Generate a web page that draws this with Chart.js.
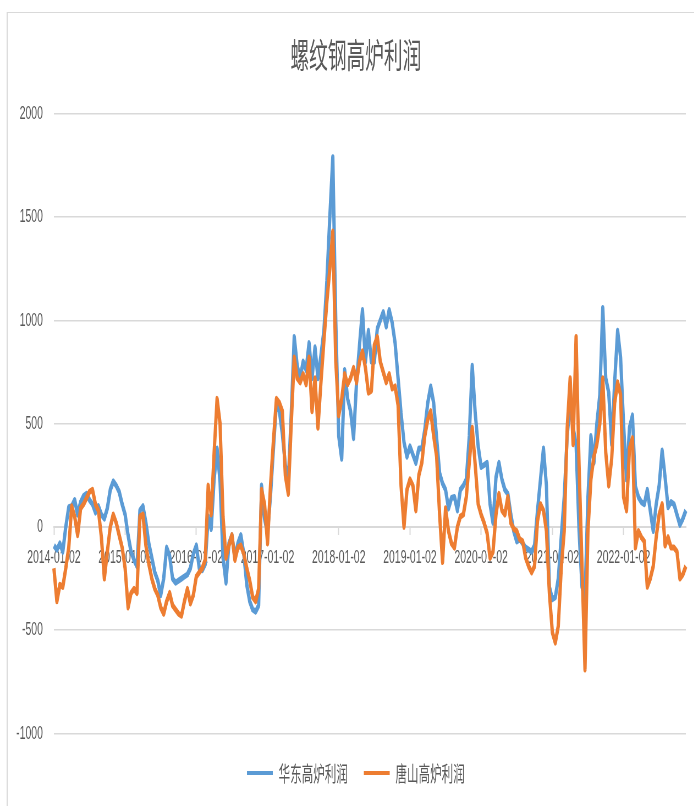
<!DOCTYPE html>
<html>
<head>
<meta charset="utf-8">
<title>螺纹钢高炉利润</title>
<script src="https://cdn.jsdelivr.net/npm/chart.js@4.4.1/dist/chart.umd.min.js"></script>
<style>
  html, body { margin: 0; padding: 0; overflow: hidden; background: #fff; }
  /* the reference is squeezed sideways, so draw wide and compress */
  #wrap { width: 1268px; height: 806px; transform: scaleX(0.55); transform-origin: 0 0; }
</style>
</head>
<body>
<div id="wrap"><canvas id="rebarProfitChart" width="1268" height="806"></canvas></div>
<script>
// 半月一个点: 每月 02 日和 16 日
const dates = [];
for (let y = 2014; y <= 2022; y++) {
  for (let m = 1; m <= 12; m++) {
    if (y === 2022 && m > 11) break;
    const mm = String(m).padStart(2, '0');
    dates.push(`${y}-${mm}-02`, `${y}-${mm}-16`);
  }
}

const tickLabels = ['2014-01-02', '2015-01-02', '2016-01-02', '2017-01-02', '2018-01-02',
  '2019-01-02', '2020-01-02', '2021-01-02', '2022-01-02'];

// 华东高炉利润
const eastChinaProfit = [
  -90, -110, -80, -120, 0, 95, 100, 130, 60, 120,
  150, 160, 130, 110, 70, 100, 60, 40, 90, 180,
  220, 200, 170, 110, 60, -40, -120, -160, -190, 80,
  100, 20, -80, -150, -220, -260, -330, -250, -100, -140,
  -250, -270, -260, -250, -240, -230, -200, -130, -90, -200,
  -210, -180, 50, -10, 230, 380, 220, -150, -270, -80,
  -40, -150, -80, -40, -130, -280, -360, -400, -410, -380,
  200, 40, -30, 150, 380, 600, 560, 450, 300, 220,
  550, 920, 780, 720, 800, 760, 890, 720, 870, 720,
  830, 950, 1190, 1500, 1790, 1000, 440, 330, 760, 620,
  560, 430, 700, 880, 1050, 800, 950, 800, 800, 960,
  1000, 1040, 970, 1050, 990, 890, 720, 550, 410, 340,
  390, 350, 310, 380, 380, 470, 600, 680, 600, 430,
  260, 210, 180, 90, 140, 145, 80, 180, 200, 230,
  440, 780, 550, 390, 290, 300, 310, 110, 20, 240,
  310, 230, 180, 160, 60, -20, -70, -60, -80, -100,
  -110, -120, -90, 80, 230, 380, 200, -290, -350, -340,
  -250, -50, 145, 440, 600, 480, 400, -20, -290, -350,
  145, 440, 310, 500, 640, 1060, 720, 650, 400, 700,
  950, 820, 500, 230, 480, 540, 195, 145, 120, 110,
  180, 80, -20, 110, 200, 370, 240, 95, 120, 110,
  60, 10, 40, 80
];

// 唐山高炉利润
const tangshanProfit = [
  -200, -360, -280, -290, -200, -100, 100, 50, -40, 90,
  110, 140, 170, 180, 110, 80, -50, -250, -120, 0,
  60, 20, -40, -100, -200, -390, -320, -300, -320, 50,
  60, -90, -180, -250, -300, -330, -390, -420, -360, -320,
  -380, -400, -420, -430, -360, -300, -370, -330, -240, -220,
  -200, -160, 200, 60, 360, 620, 500, 50, -150, -90,
  -40, -160, -100, -90, -130, -200, -260, -340, -360, -300,
  180, 110, -80, 200, 420, 620, 600, 560, 250, 160,
  500, 820, 720, 700, 740, 690, 820, 560, 720, 480,
  700, 900, 1090, 1250, 1430, 800, 540, 620, 740, 690,
  720, 770, 700, 800, 850, 770, 650, 660, 880, 920,
  800, 750, 700, 740, 670, 680, 590, 200, 0, 180,
  230, 200, 80, 250, 310, 440, 520, 560, 440, 340,
  60, -170, 90, -20, -80, -100, 0, 50, 60, 145,
  310, 480, 300, 110, 60, 20, -30, -150, -120, 60,
  160, 80, 60, 145, 20, -10, -20, -60, -70, -150,
  -190, -220, -190, 30, 110, 80, -20, -320, -510, -560,
  -480, -200, -20, 480, 720, 400, 920, 300, -190, -690,
  -20, 230, 340, 400, 500, 720, 360, 200, 330, 600,
  700, 640, 145, 80, 380, 430, -100, -20, -50, -70,
  -290, -250, -190, -50, 60, 110, -90, -50, -100, -100,
  -120, -250, -230, -190
];

const textColor = '#595959';
const gridColor = '#d9d9d9';

// 白底 + 图表外框
const chartFrame = {
  id: 'chartFrame',
  beforeDraw(chart) {
    const ctx = chart.ctx;
    ctx.save();
    ctx.fillStyle = '#fff';
    ctx.fillRect(0, 0, chart.width, chart.height);
    ctx.strokeStyle = gridColor;
    ctx.lineWidth = 2;
    ctx.beginPath();
    ctx.moveTo(13, chart.height);
    ctx.lineTo(13, 12.5);
    ctx.stroke();
    ctx.lineWidth = 1;
    ctx.beginPath();
    ctx.moveTo(12, 12.5);
    ctx.lineTo(chart.width, 12.5);
    ctx.stroke();
    ctx.restore();
  }
};

const rebarCtx = document.getElementById('rebarProfitChart');
new Chart(rebarCtx, {
  type: 'line',
  data: {
    labels: dates,
    datasets: [{
      label: '华东高炉利润',
      data: eastChinaProfit,
      borderColor: '#5b9bd5',
      backgroundColor: '#5b9bd5',
      borderWidth: 6,
      pointRadius: 0,
      borderJoinStyle: 'round',
      order: 1
    }, {
      label: '唐山高炉利润',
      data: tangshanProfit,
      borderColor: '#ed7d31',
      backgroundColor: '#ed7d31',
      borderWidth: 6,
      pointRadius: 0,
      borderJoinStyle: 'round',
      order: 0
    }]
  },
  options: {
    responsive: false,
    animation: false,
    layout: {
      padding: { left: 26, right: 0, top: 0, bottom: 12.5 }
    },
    plugins: {
      title: {
        display: true,
        text: '螺纹钢高炉利润',
        color: textColor,
        font: { family: 'Noto Sans CJK SC', size: 34, weight: 'normal' },
        padding: { top: 35, bottom: 38 }
      },
      legend: {
        position: 'bottom',
        labels: {
          boxWidth: 47,
          boxHeight: 4,
          padding: 29,
          color: textColor,
          font: { family: 'Noto Sans CJK SC', size: 21 },
          sort: (a, b) => a.datasetIndex - b.datasetIndex,
          generateLabels: chart => Chart.defaults.plugins.legend.labels.generateLabels(chart)
            .map(item => ({ ...item, lineWidth: 0 }))
        }
      },
      tooltip: { enabled: false }
    },
    scales: {
      x: {
        type: 'category',
        position: { y: 0 },
        afterBuildTicks: scale => {
          scale.ticks = scale.ticks.filter(t => tickLabels.includes(dates[t.value]));
        },
        afterFit: scale => { scale.height = 11.5; },
        grid: { drawOnChartArea: false, tickLength: 7, tickColor: gridColor, tickWidth: 2 },
        border: { color: gridColor, width: 2 },
        ticks: {
          autoSkip: false,
          maxRotation: 0,
          minRotation: 0,
          padding: 12,
          color: textColor,
          font: { family: 'Liberation Sans', size: 19 }
        }
      },
      y: {
        min: -1000,
        max: 2000,
        afterFit: scale => { scale.width = 72; },
        grid: { color: gridColor, lineWidth: 1.5, drawTicks: false },
        border: { display: false },
        ticks: {
          stepSize: 500,
          padding: 20,
          color: textColor,
          font: { family: 'Liberation Sans', size: 19 },
          callback: value => String(value)
        }
      },
      // empty strip on the right so the plot ends where the reference does
      yRightSpace: {
        position: 'right',
        afterFit: scale => { scale.width = 21; },
        grid: { display: false },
        border: { display: false },
        ticks: { display: false }
      }
    }
  },
  plugins: [chartFrame]
});
</script>
</body>
</html>
